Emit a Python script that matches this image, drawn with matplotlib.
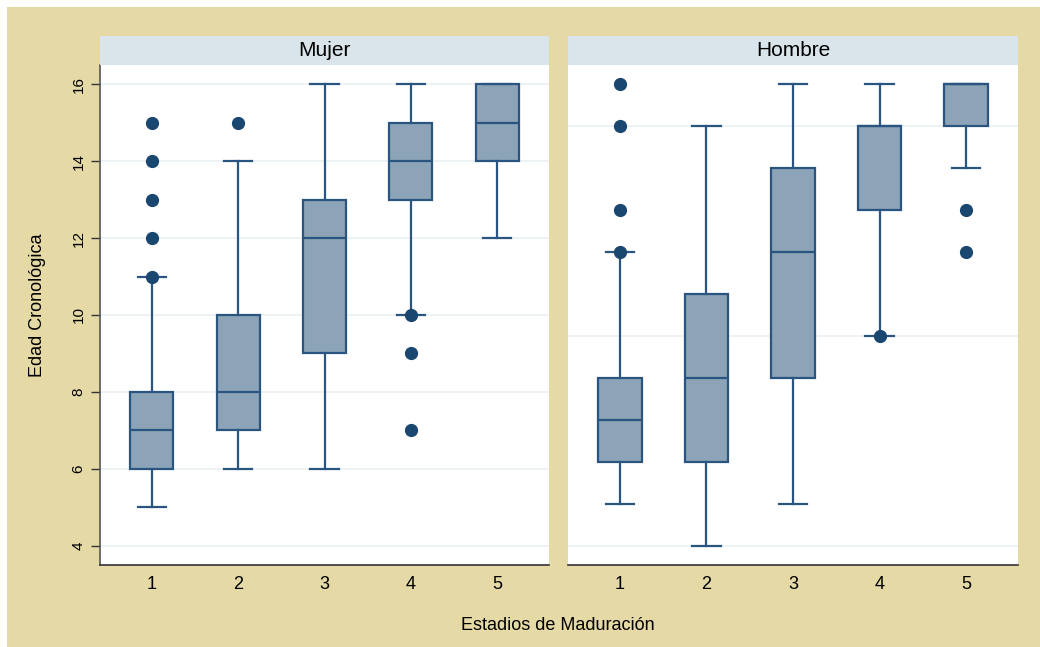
import matplotlib
matplotlib.use("Agg")
import matplotlib.pyplot as plt
from matplotlib.patches import Rectangle

plt.rcParams['font.family'] = ['Liberation Sans', 'DejaVu Sans']

categories = [1, 2, 3, 4, 5]
panels = ["Mujer", "Hombre"]

# Mujer (values in years)
mujer_whislo = [5, 6, 6, 10, 12]
mujer_q1 = [6, 7, 9, 13, 14]
mujer_med = [7, 8, 12, 14, 15]
mujer_q3 = [8, 10, 13, 15, 16]
mujer_whishi = [11, 14, 16, 16, 16]
mujer_fliers = [[11, 12, 13, 14, 15], [15], [], [10, 9, 7], []]

# Hombre (read on the same vertical scale as the left panel)
hombre_whislo = [5.09, 4.0, 5.09, 9.45, 13.82]
hombre_q1 = [6.18, 6.18, 8.36, 12.73, 14.91]
hombre_med = [7.27, 8.36, 11.64, 14.91, 16.0]
hombre_q3 = [8.36, 10.55, 13.82, 14.91, 16.0]
hombre_whishi = [11.64, 14.91, 16.0, 16.0, 16.0]
hombre_fliers = [[11.64, 12.73, 14.91, 16.0], [], [], [9.45], [12.73, 11.64]]

left_ticks = [4, 6, 8, 10, 12, 14, 16]
right_grid = [4.0, 9.45, 14.91]

TAN = '#E5D9A6'
STRIP = '#D9E5EB'
FILL = '#8DA3B7'
EDGE = '#2A5580'
DOT = '#1A476F'
GRID = '#EAF1F3'

W, H = 1040, 647
fig = plt.figure(figsize=(W / 100, H / 100), dpi=100, facecolor='white')
fig.patches.append(Rectangle((7 / W, 0), 1 - 7 / W, 1 - 7 / H, transform=fig.transFigure,
                             facecolor=TAN, edgecolor='none', zorder=-10))

def fx(px):
    return px / W

def fy(py):
    return 1 - py / H

ax_l = fig.add_axes([fx(100), fy(565), fx(549) - fx(100), fy(65) - fy(565)])
ax_r = fig.add_axes([fx(568), fy(565), fx(1018) - fx(568), fy(65) - fy(565)])

data = [
    (ax_l, mujer_whislo, mujer_q1, mujer_med, mujer_q3, mujer_whishi, mujer_fliers),
    (ax_r, hombre_whislo, hombre_q1, hombre_med, hombre_q3, hombre_whishi, hombre_fliers),
]

for ax, wlo, q1, med, q3, whi, fl in data:
    stats = []
    for i in range(len(categories)):
        stats.append(dict(whislo=wlo[i], q1=q1[i], med=med[i], q3=q3[i],
                          whishi=whi[i], fliers=fl[i]))
    ax.bxp(stats, positions=categories, widths=0.5, capwidths=0.33,
           patch_artist=True, showfliers=True,
           boxprops=dict(facecolor=FILL, edgecolor=EDGE, linewidth=1.6),
           medianprops=dict(color=EDGE, linewidth=1.6),
           whiskerprops=dict(color=EDGE, linewidth=1.6),
           capprops=dict(color=EDGE, linewidth=1.6),
           flierprops=dict(marker='o', markerfacecolor=DOT, markeredgecolor=DOT,
                           markersize=8.5, linestyle='none'))
    ax.set_xlim(0.4, 5.6)
    ax.set_ylim(3.506, 16.494)
    ax.set_facecolor('white')
    ax.set_xticks(categories)
    ax.set_xticklabels([str(c) for c in categories], fontsize=13)
    ax.tick_params(axis='x', length=0, pad=8)
    for s in ['top', 'right']:
        ax.spines[s].set_visible(False)
    ax.spines['bottom'].set_color('#333333')
    ax.spines['bottom'].set_linewidth(1.2)
    ax.set_axisbelow(True)

ax_l.set_yticks(left_ticks)
ax_l.set_yticklabels([str(t) for t in left_ticks], fontsize=11, rotation=90, va='center')
ax_l.tick_params(axis='y', length=6.5, width=1, pad=4, color='#333333')
ax_l.spines['left'].set_color('#555555')
ax_l.spines['left'].set_linewidth(1.2)
ax_l.grid(axis='y', color=GRID, linewidth=1.2)

ax_r.set_yticks(right_grid)
ax_r.set_yticklabels([])
ax_r.tick_params(axis='y', length=0)
ax_r.spines['left'].set_visible(False)
ax_r.grid(axis='y', color=GRID, linewidth=1.2)

# strips
for (x0, x1), title in zip([(100, 549), (568, 1018)], panels):
    fig.patches.append(Rectangle((fx(x0), fy(65)), fx(x1) - fx(x0), fy(36) - fy(65),
                                 transform=fig.transFigure, facecolor=STRIP,
                                 edgecolor='none', zorder=1))
    fig.text((fx(x0) + fx(x1)) / 2, (fy(36) + fy(65)) / 2, title, fontsize=15,
             ha='center', va='center', color='black')

fig.text(fx(37), fy(305), 'Edad Cronológica', rotation=90, fontsize=13,
         ha='center', va='center')
fig.text(fx(558), fy(625), 'Estadios de Maduración', fontsize=13,
         ha='center', va='center')

fig.savefig('out.png', dpi=100, facecolor='white')
